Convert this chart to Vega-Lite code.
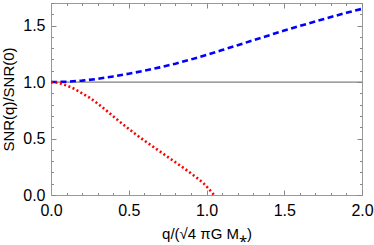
{
  "$schema": "https://vega.github.io/schema/vega-lite/v6.json",
  "width": 311,
  "height": 192,
  "autosize": "none",
  "padding": {"left": 51, "top": 3, "right": 12, "bottom": 50},
  "config": {
    "view": {"stroke": "#999999", "strokeWidth": 1},
    "font": "Liberation Sans",
    "axis": {"domainColor": "#999999", "tickColor": "#888888", "tickWidth": 1, "grid": false, "labelFontSize": 16, "titleFontSize": 15, "labelColor": "#000", "titleColor": "#000", "titleFontWeight": "normal"}
  },
  "datasets": {
    "curves": [
      {"q": 0.0, "r": 1.0, "s": "blue"}, {"q": 0.1, "r": 1.003, "s": "blue"}, {"q": 0.2, "r": 1.013, "s": "blue"}, {"q": 0.3, "r": 1.028, "s": "blue"}, {"q": 0.4, "r": 1.05, "s": "blue"}, {"q": 0.5, "r": 1.074, "s": "blue"}, {"q": 0.6, "r": 1.1, "s": "blue"}, {"q": 0.7, "r": 1.13, "s": "blue"}, {"q": 0.8, "r": 1.163, "s": "blue"}, {"q": 0.9, "r": 1.2, "s": "blue"}, {"q": 1.0, "r": 1.24, "s": "blue"}, {"q": 1.1, "r": 1.283, "s": "blue"}, {"q": 1.2, "r": 1.326, "s": "blue"}, {"q": 1.3, "r": 1.37, "s": "blue"}, {"q": 1.4, "r": 1.413, "s": "blue"}, {"q": 1.5, "r": 1.456, "s": "blue"}, {"q": 1.6, "r": 1.497, "s": "blue"}, {"q": 1.7, "r": 1.537, "s": "blue"}, {"q": 1.8, "r": 1.576, "s": "blue"}, {"q": 1.9, "r": 1.613, "s": "blue"}, {"q": 2.0, "r": 1.648, "s": "blue"},
      {"q": 0.0, "r": 1.0, "s": "red"}, {"q": 0.05, "r": 0.992, "s": "red"}, {"q": 0.1, "r": 0.97, "s": "red"}, {"q": 0.15, "r": 0.94, "s": "red"}, {"q": 0.2, "r": 0.9, "s": "red"}, {"q": 0.25, "r": 0.86, "s": "red"}, {"q": 0.3, "r": 0.81, "s": "red"}, {"q": 0.35, "r": 0.755, "s": "red"}, {"q": 0.4, "r": 0.697, "s": "red"}, {"q": 0.45, "r": 0.64, "s": "red"}, {"q": 0.5, "r": 0.585, "s": "red"}, {"q": 0.55, "r": 0.532, "s": "red"}, {"q": 0.6, "r": 0.482, "s": "red"}, {"q": 0.65, "r": 0.434, "s": "red"}, {"q": 0.7, "r": 0.386, "s": "red"}, {"q": 0.75, "r": 0.338, "s": "red"}, {"q": 0.8, "r": 0.29, "s": "red"}, {"q": 0.85, "r": 0.242, "s": "red"}, {"q": 0.9, "r": 0.192, "s": "red"}, {"q": 0.95, "r": 0.14, "s": "red"}, {"q": 0.98, "r": 0.105, "s": "red"}, {"q": 1.01, "r": 0.062, "s": "red"}, {"q": 1.035, "r": 0.022, "s": "red"}, {"q": 1.048, "r": 0.0, "s": "red"}
    ],
    "unity": [{"q": 0, "r": 1}, {"q": 2, "r": 1}]
  },
  "resolve": {"axis": {"x": "independent", "y": "independent"}},
  "layer": [
    {
      "data": {"name": "unity"},
      "mark": {"type": "line", "color": "#808080", "strokeWidth": 1.3},
      "encoding": {
        "x": {"field": "q", "type": "quantitative", "scale": {"domain": [0, 2], "nice": false, "zero": false},
          "axis": {"orient": "bottom", "title": "q/(√4 πG  M⁎)", "values": [0,0.1,0.2,0.3,0.4,0.5,0.6,0.7,0.8,0.9,1,1.1,1.2,1.3,1.4,1.5,1.6,1.7,1.8,1.9,2],
            "labelExpr": "(round(datum.value*10) % 5 == 0) ? format(datum.value, '.1f') : ''",
            "tickSize": {"condition": {"test": "round(datum.value*10) % 5 == 0", "value": -5}, "value": -2.5},
            "labelPadding": 12, "titlePadding": 6, "labelFlush": false, "labelOverlap": false}},
        "y": {"field": "r", "type": "quantitative", "scale": {"domain": [0, 1.7], "nice": false},
          "axis": {"orient": "left", "title": "SNR(q)/SNR(0)", "values": [0,0.1,0.2,0.3,0.4,0.5,0.6,0.7,0.8,0.9,1,1.1,1.2,1.3,1.4,1.5,1.6,1.7],
            "labelExpr": "(round(datum.value*10) % 5 == 0) ? format(datum.value, '.1f') : ''",
            "tickSize": {"condition": {"test": "round(datum.value*10) % 5 == 0", "value": -5}, "value": -2.5},
            "labelPadding": 11, "titlePadding": 6, "labelFlush": false, "labelOverlap": false}}
      }
    },
    {
      "data": {"name": "curves"},
      "mark": {"type": "line", "strokeWidth": 2.6},
      "encoding": {
        "x": {"field": "q", "type": "quantitative",
          "axis": {"orient": "top", "title": null, "labels": false, "domain": false, "values": [0,0.1,0.2,0.3,0.4,0.5,0.6,0.7,0.8,0.9,1,1.1,1.2,1.3,1.4,1.5,1.6,1.7,1.8,1.9,2],
            "tickSize": {"condition": {"test": "round(datum.value*10) % 5 == 0", "value": -5}, "value": -2.5}}},
        "y": {"field": "r", "type": "quantitative",
          "axis": {"orient": "right", "title": null, "labels": false, "domain": false, "values": [0,0.1,0.2,0.3,0.4,0.5,0.6,0.7,0.8,0.9,1,1.1,1.2,1.3,1.4,1.5,1.6,1.7],
            "tickSize": {"condition": {"test": "round(datum.value*10) % 5 == 0", "value": -5}, "value": -2.5}}},
        "color": {"field": "s", "type": "nominal", "scale": {"domain": ["blue", "red"], "range": ["#0000ff", "#ff0000"]}, "legend": null},
        "strokeDash": {"field": "s", "type": "nominal", "scale": {"domain": ["blue", "red"], "range": [[6, 3.5], [2, 2.5]]}, "legend": null}
      }
    }
  ]
}
